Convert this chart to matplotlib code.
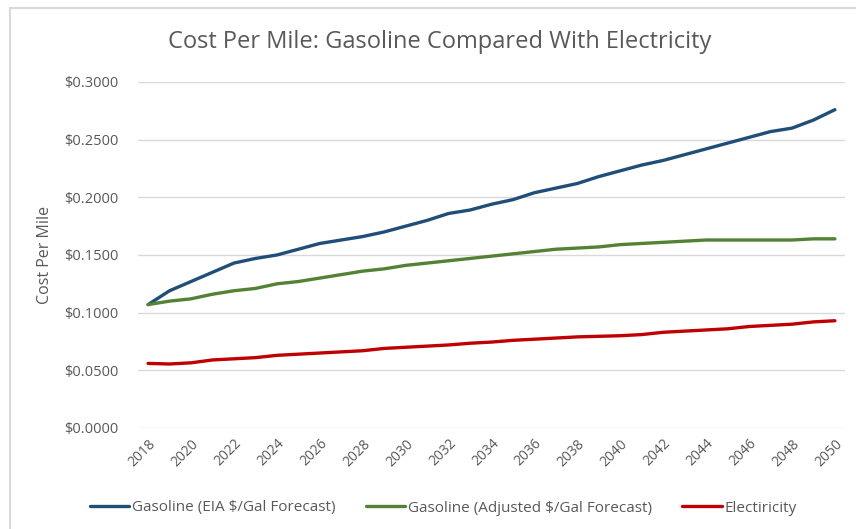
import numpy as np
import matplotlib.pyplot as plt
from matplotlib.patches import Rectangle

years = list(range(2018, 2051))
eia = [0.107, 0.119, 0.127, 0.135, 0.143, 0.147, 0.150, 0.155, 0.160, 0.163,
       0.166, 0.170, 0.175, 0.180, 0.186, 0.189, 0.194, 0.198, 0.204, 0.208,
       0.212, 0.218, 0.223, 0.228, 0.232, 0.237, 0.242, 0.247, 0.252, 0.257,
       0.260, 0.267, 0.276]
adjusted = [0.107, 0.110, 0.112, 0.116, 0.119, 0.121, 0.125, 0.127, 0.130, 0.133,
            0.136, 0.138, 0.141, 0.143, 0.145, 0.147, 0.149, 0.151, 0.153, 0.155,
            0.156, 0.157, 0.159, 0.160, 0.161, 0.162, 0.163, 0.163, 0.163, 0.163,
            0.163, 0.164, 0.164]
electricity = [0.056, 0.0555, 0.0565, 0.059, 0.060, 0.061, 0.063, 0.064, 0.065, 0.066,
               0.067, 0.069, 0.070, 0.071, 0.072, 0.0735, 0.0745, 0.076, 0.077, 0.078,
               0.079, 0.0795, 0.080, 0.081, 0.083, 0.084, 0.085, 0.086, 0.088, 0.089,
               0.090, 0.092, 0.093]
labels = ['Gasoline (EIA $/Gal Forecast)', 'Gasoline (Adjusted $/Gal Forecast)', 'Electiricity']
colors = ['#1F4E79', '#548235', '#C00000']
yticks = [0.0, 0.05, 0.10, 0.15, 0.20, 0.25, 0.30]

plt.rcParams['font.family'] = ['Open Sans', 'DejaVu Sans']
W, H = 856, 529
fig = plt.figure(figsize=(W / 100, H / 100), dpi=100)
ax = fig.add_axes([138 / W, 1 - 428 / H, (845 - 138) / W, (428 - 82) / H])

# chart frame (partly off the picture)
fig.patches.append(Rectangle((10 / W, -0.1), 1.2, 1 - 8 / H + 0.1, transform=fig.transFigure,
                             fill=False, edgecolor='#D9D9D9', linewidth=1.5))

for vals, lab, c in zip([eia, adjusted, electricity], labels, colors):
    ax.plot(years, vals, color=c, linewidth=2.4, label=lab, solid_capstyle='round')

ax.set_xlim(2017.53, 2050.47)
ax.set_ylim(0, 0.3)
ax.set_yticks(yticks)
ax.set_yticklabels(['${:.4f}'.format(v) for v in yticks])
ax.set_xticks(years[::2])
ax.set_xticklabels([str(y) for y in years[::2]], rotation=45, ha='right', rotation_mode='anchor')
ax.tick_params(axis='both', length=0, colors='#595959')
ax.tick_params(axis='x', pad=6, labelsize=10)
ax.tick_params(axis='y', pad=14, labelsize=10.5)
ax.grid(axis='y', color='#D9D9D9', linewidth=1)
ax.set_axisbelow(True)
for s in ax.spines.values():
    s.set_visible(False)

ax.set_ylabel('Cost Per Mile', fontsize=11.5, color='#595959', labelpad=8)
fig.text(440 / W, 1 - 42 / H, 'Cost Per Mile: Gasoline Compared With Electricity',
         ha='center', va='center', fontsize=17, color='#595959')

fig.legend(loc='center', bbox_to_anchor=(443 / W, 1 - 508 / H), ncol=3, frameon=False,
           fontsize=11, handlelength=2.6, columnspacing=2.0, handletextpad=0.15,
           labelcolor='#595959')

fig.savefig('out.png', dpi=100)
